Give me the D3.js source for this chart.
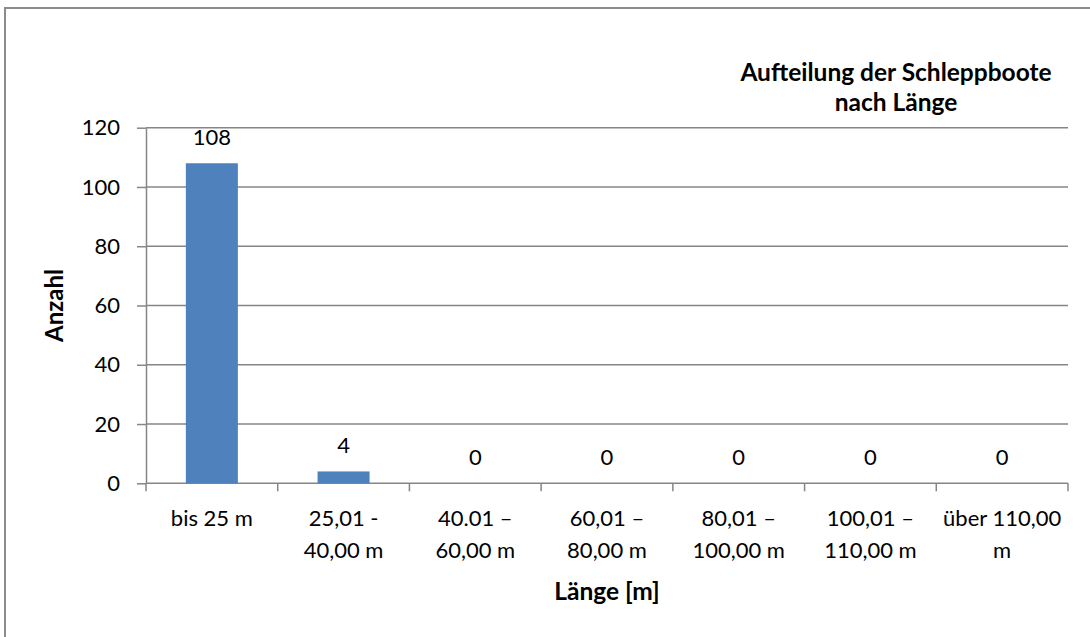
<!DOCTYPE html>
<html>
<head>
<meta charset="utf-8">
<script src="https://cdn.jsdelivr.net/npm/d3@7"></script>
<style>
  html, body { margin: 0; padding: 0; background: #fff; }
  svg { display: block; }
  text { font-family: Lato, "Open Sans", sans-serif; fill: #000; }
</style>
</head>
<body>
<script>
const categories = ["bis 25 m", "25,01 - 40,00 m", "40.01 – 60,00 m", "60,01 – 80,00 m", "80,01 – 100,00 m", "100,01 – 110,00 m", "über 110,00 m"];
const values = [108, 4, 0, 0, 0, 0, 0];
const yTicks = [0, 20, 40, 60, 80, 100, 120];
const titleLines = ["Aufteilung der Schleppboote", "nach Länge"];
const yTitle = "Anzahl";
const xTitle = "Länge [m]";

const W = 1090, H = 637;
const plot = { left: 146, right: 1068, top: 127.7, bottom: 483.3 };

const svg = d3.select("body").append("svg").attr("width", W).attr("height", H);

// chart area border (extends beyond the picture on right and bottom)
svg.append("rect").attr("x", 5).attr("y", 8).attr("width", W + 20).attr("height", H + 20)
  .attr("fill", "none").attr("stroke", "#8c8c8c").attr("stroke-width", 2);

const x = d3.scaleBand().domain(categories).range([plot.left, plot.right])
  .paddingInner(0.605).paddingOuter(0.3025);
const y = d3.scaleLinear().domain([0, 120]).range([plot.bottom, plot.top]);
const step = x.step();

// gridlines
svg.append("g").selectAll("line").data(yTicks.filter(d => d > 0)).join("line")
  .attr("x1", plot.left).attr("x2", plot.right)
  .attr("y1", d => y(d)).attr("y2", d => y(d))
  .attr("stroke", "#868686").attr("stroke-width", 1.5);

// y axis
const yAxis = d3.axisLeft(y).tickValues(yTicks).tickSize(9).tickPadding(17).tickSizeOuter(0);
const gy = svg.append("g").attr("transform", `translate(${plot.left},0)`).call(yAxis);
gy.select(".domain").attr("stroke", "#868686").attr("stroke-width", 1.5);
gy.selectAll(".tick line").attr("stroke", "#868686").attr("stroke-width", 1.5);
gy.selectAll(".tick text").attr("font-size", 22).attr("font-family", "Lato").attr("fill", "#000");

// x axis line and boundary ticks
const boundaries = d3.range(categories.length + 1).map(i => plot.left + i * step);
svg.append("line").attr("x1", plot.left).attr("x2", plot.right)
  .attr("y1", y(0)).attr("y2", y(0)).attr("stroke", "#868686").attr("stroke-width", 1.5);
svg.append("g").selectAll("line").data(boundaries).join("line")
  .attr("x1", d => d).attr("x2", d => d).attr("y1", y(0)).attr("y2", y(0) + 8)
  .attr("stroke", "#868686").attr("stroke-width", 1.5);

// bars
svg.append("g").selectAll("rect").data(values).join("rect")
  .attr("x", (d, i) => x(categories[i]))
  .attr("width", x.bandwidth())
  .attr("y", d => y(d))
  .attr("height", d => y(0) - y(d))
  .attr("fill", "#4F81BD");

// data labels
svg.append("g").selectAll("text").data(values).join("text")
  .attr("x", (d, i) => x(categories[i]) + x.bandwidth() / 2)
  .attr("y", d => y(d) - 18)
  .attr("text-anchor", "middle").attr("font-size", 22)
  .text(d => d);

// x tick labels with word wrapping
const maxW = 128;
const measure = svg.append("text").attr("font-size", 22).attr("opacity", 0);
function wrap(label) {
  const words = label.split(" ");
  const lines = [];
  let cur = "";
  for (const w of words) {
    const test = cur ? cur + " " + w : w;
    measure.text(test);
    if (cur && measure.node().getComputedTextLength() > maxW) {
      lines.push(cur); cur = w;
    } else cur = test;
  }
  lines.push(cur);
  return lines;
}
const xl = svg.append("g");
categories.forEach(c => {
  const t = xl.append("text").attr("text-anchor", "middle").attr("font-size", 22)
    .attr("x", x(c) + x.bandwidth() / 2).attr("y", 526);
  wrap(c).forEach((ln, k) => {
    t.append("tspan").attr("x", x(c) + x.bandwidth() / 2).attr("dy", k === 0 ? 0 : 32).text(ln);
  });
});
measure.remove();

// axis titles
svg.append("text").attr("x", (plot.left + plot.right) / 2).attr("y", 600)
  .attr("text-anchor", "middle").attr("font-size", 24.5).attr("font-weight", "bold").text(xTitle);
svg.append("text").attr("transform", `translate(63,${(plot.top + plot.bottom) / 2}) rotate(-90)`)
  .attr("text-anchor", "middle").attr("font-size", 24).attr("font-weight", "bold").text(yTitle);

// chart title
const tt = svg.append("text").attr("text-anchor", "middle").attr("font-size", 24.5).attr("font-weight", "bold");
titleLines.forEach((ln, k) => {
  tt.append("tspan").attr("x", 896).attr("y", 81 + k * 30).text(ln);
});
</script>
</body>
</html>
